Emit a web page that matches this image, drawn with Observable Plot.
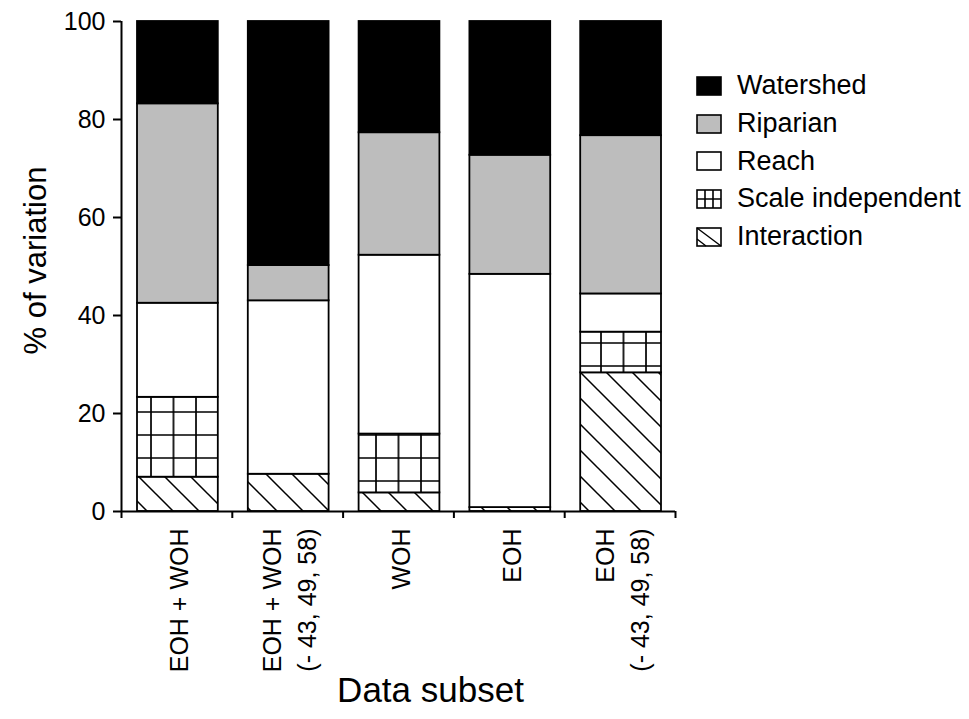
<!DOCTYPE html>
<html>
<head>
<meta charset="utf-8">
<script src="https://cdn.jsdelivr.net/npm/d3@7"></script>
<script src="https://cdn.jsdelivr.net/npm/@observablehq/plot@0.6"></script>
<style>
  body { margin: 0; background: #fff; font-family: "Liberation Sans", Arial, Helvetica, sans-serif; }
  #wrap { position: relative; width: 969px; height: 719px; }
  #legend { position: absolute; left: 696px; top: 67px; }
  .row { display: flex; align-items: center; height: 37.7px; font-size: 27px; color: #000; white-space: nowrap; }
  .row svg { margin-right: 15px; flex: none; }
</style>
</head>
<body>
<svg width="0" height="0" style="position:absolute">
  <defs>
    <pattern id="gridPat" patternUnits="userSpaceOnUse" x="15" y="20" width="22.5" height="23">
      <rect width="22.5" height="23" fill="#fff"/>
      <path d="M1,0V23M0,1H22.5" stroke="#000" stroke-width="1.7" fill="none"/>
    </pattern>
    <pattern id="diagPat" patternUnits="userSpaceOnUse" width="26" height="26">
      <rect width="26" height="26" fill="#fff"/>
      <path d="M0,0L26,26M-2,24L2,28M24,-2L28,2" stroke="#000" stroke-width="1.5" fill="none"/>
    </pattern>
  </defs>
</svg>
<div id="wrap">
  <div id="chart"></div>
  <div id="legend"></div>
</div>
<script>
// ---- data ----
const categories = ["EOH + WOH", "EOH + WOH\n(- 43, 49, 58)", "WOH", "EOH", "EOH\n(- 43, 49, 58)"];
const components = ["Interaction", "Scale independent", "Reach", "Riparian", "Watershed"];
const interaction      = [7.0, 7.6, 3.8, 0.8, 28.3];
const scaleIndependent = [16.3, 0.0, 12.0, 0.0, 8.3];
const reach            = [19.2, 35.4, 36.5, 47.6, 7.8];
const riparian         = [40.7, 7.2, 25.0, 24.3, 32.3];
const watershed        = [16.8, 49.8, 22.7, 27.3, 23.3];
const yTicks = [0, 20, 40, 60, 80, 100];
const legendOrder = ["Watershed", "Riparian", "Reach", "Scale independent", "Interaction"];

const fills = {
  "Watershed": "#000000",
  "Riparian": "#bdbdbd",
  "Reach": "#ffffff",
  "Scale independent": "url(#gridPat)",
  "Interaction": "url(#diagPat)"
};

// ---- stacked table ----
const series = [interaction, scaleIndependent, reach, riparian, watershed];
const rows = [];
categories.forEach((cat, i) => {
  let cum = 0;
  components.forEach((comp, j) => {
    const v = series[j][i];
    if (v > 0) rows.push({i, cat, comp, y1: cum, y2: cum + v});
    cum += v;
  });
});

const chart = Plot.plot({
  width: 969,
  height: 719,
  marginLeft: 121,
  marginRight: 294,
  marginTop: 21,
  marginBottom: 208,
  style: {fontFamily: "'Liberation Sans', Arial, Helvetica, sans-serif", background: "white", color: "black"},
  x: {domain: [0, categories.length]},
  y: {domain: [0, 100]},
  color: {type: "identity"},
  marks: [
    Plot.rectY(rows, {
      x1: d => d.i, x2: d => d.i + 1, y1: "y1", y2: "y2",
      insetLeft: 16, insetRight: 14,
      fill: d => fills[d.comp], stroke: "black", strokeWidth: 1.8
    }),
    Plot.axisY({ticks: yTicks, tickSize: 8, tickPadding: 8, fontSize: 25, label: null, strokeWidth: 2}),
    Plot.axisX({ticks: d3.range(categories.length + 1), tickSize: 7, tickFormat: () => "", label: null, strokeWidth: 2}),
    Plot.ruleX([0], {strokeWidth: 2}),
    Plot.ruleY([0], {strokeWidth: 2}),
    Plot.text(categories, {
      x: (d, i) => i + 0.5, y: () => 0, text: d => d,
      rotate: -90, textAnchor: "end", lineAnchor: "middle", lineHeight: 1.4,
      dy: 17, fontSize: 25
    }),
    Plot.text(["Data subset"], {frameAnchor: "bottom", lineAnchor: "middle", textAnchor: "middle", dx: 32, dy: 179, fontSize: 35}),
    Plot.text(["% of variation"], {frameAnchor: "left", rotate: -90, textAnchor: "middle", lineAnchor: "middle", dx: -85, dy: -6, fontSize: 31})
  ]
});
document.getElementById("chart").appendChild(chart);

// ---- legend ----
const swatch = {
  "Watershed": '<rect x="1" y="1" width="24" height="18" fill="#000" stroke="#000" stroke-width="1.6"/>',
  "Riparian": '<rect x="1" y="1" width="24" height="18" fill="#bdbdbd" stroke="#000" stroke-width="1.6"/>',
  "Reach": '<rect x="1" y="1" width="24" height="18" fill="#fff" stroke="#000" stroke-width="1.6"/>',
  "Scale independent": '<rect x="1" y="1" width="24" height="18" fill="#fff" stroke="#000" stroke-width="1.6"/><path d="M9,1V19M17,1V19M1,10H25" stroke="#000" stroke-width="1.6"/>',
  "Interaction": '<rect x="1" y="1" width="24" height="18" fill="#fff" stroke="#000" stroke-width="1.6"/><path d="M1,1L25,19M1,12L10,19" stroke="#000" stroke-width="1.4"/>'
};
const legend = document.getElementById("legend");
legendOrder.forEach(name => {
  const row = document.createElement("div");
  row.className = "row";
  row.innerHTML = `<svg width="26" height="20" viewBox="0 0 26 20">${swatch[name]}</svg><span>${name}</span>`;
  legend.appendChild(row);
});
</script>
</body>
</html>
